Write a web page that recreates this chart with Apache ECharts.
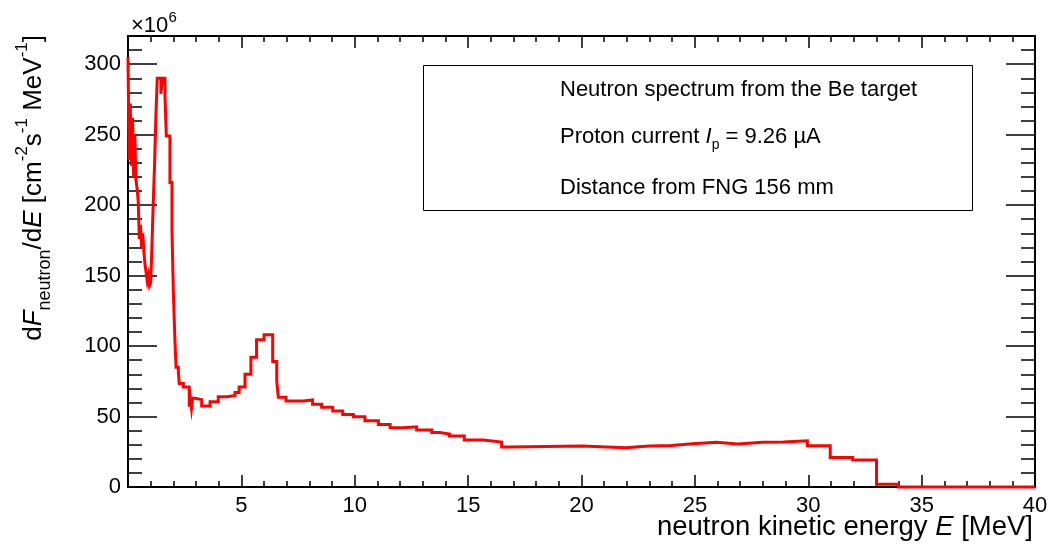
<!DOCTYPE html>
<html>
<head>
<meta charset="utf-8">
<script src="https://cdn.jsdelivr.net/npm/echarts@6/dist/echarts.min.js"></script>
<style>
html,body{margin:0;padding:0;background:#fff;}
#c{width:1053px;height:551px;}
</style>
</head>
<body>
<div id="c"></div>
<script>
// Bin edges (MeV) of the neutron spectrum histogram
const binEdges = [
  0.00, 0.05, 0.10, 0.15, 0.20, 0.25, 0.30, 0.35, 0.40, 0.45,
  0.50, 0.55, 0.60, 0.65, 0.70, 0.75, 0.80, 0.85, 0.90, 0.95,
  1.00, 1.05, 1.10, 1.17, 1.23, 1.29, 1.45, 1.52, 1.63, 1.69,
  1.85, 1.94, 2.00, 2.07, 2.12, 2.22, 2.26, 2.44, 2.70, 2.75,
  2.80, 2.85, 2.95, 3.25, 3.62, 3.98, 4.38, 4.72, 4.90, 5.16,
  5.42, 5.67, 6.00, 6.38, 6.56, 6.63, 6.97, 7.73, 8.14, 8.54,
  9.03, 9.47, 9.94, 10.45, 11.04, 11.56, 12.14, 12.73, 13.40, 13.75,
  14.18, 14.83, 15.67, 16.48, 16.80, 20.03, 21.94, 22.99, 23.95, 24.90,
  25.95, 26.91, 27.96, 28.91, 29.96, 30.97, 31.96, 33.01, 33.97, 40.00
];
// dF/dE values (x10^6 cm^-2 s^-1 MeV^-1), one per bin
const fluxValues = [
  305, 232, 272, 228, 262, 220, 250, 218, 212, 203,
  176, 186, 170, 180, 167, 158, 152, 146, 150, 143,
  145, 168, 195, 228, 263, 290, 279, 290, 278, 249,
  216, 182, 138, 104, 85, 82, 73.5, 71, 57, 63,
  56, 63, 62, 57.5, 60.5, 64, 65, 67, 71, 80,
  92, 104.5, 108, 89, 75, 63.6, 61, 61.7, 58.8, 56.5,
  54, 51.5, 49.8, 47, 44.4, 42, 42.7, 40.4, 38.7, 37.6,
  36.1, 33.3, 31.9, 28.3, 29.1, 27.9, 29.1, 29.5, 30.7, 31.7,
  30.5, 31.7, 31.9, 32.8, 29.3, 21.0, 19.1, 1.9, 0
];
const legendLines = [
  'Neutron spectrum from the Be target',
  '{n|Proton current }{i|I}{s|p}{n| = 9.26 µA}',
  'Distance from FNG 156 mm'
];
const xTitle = '{n|neutron kinetic energy }{i|E}{n| [MeV]}';
const yTitle = '{n|d}{i|F}{sub|neutron}{n|/d}{i|E}{n| [cm}{sup|-2}{n|s}{sup|-1}{n| MeV}{sup|-1}{n|]}';

const pts = [];
for (let i = 0; i < fluxValues.length; i++) {
  pts.push([binEdges[i], fluxValues[i]]);
  pts.push([binEdges[i + 1], fluxValues[i]]);
}

const FONT = "'Liberation Sans', Arial, sans-serif";
const tickStyle = {color: '#000', width: 1.5};
const lineStyleAx = {color: '#000', width: 2};

function xAx(pos, labels) {
  return {
    type: 'value', position: pos, min: 0, max: 40, interval: 5,
    axisLine: {show: true, onZero: false, lineStyle: lineStyleAx},
    axisTick: {show: true, inside: true, length: 12, lineStyle: tickStyle},
    minorTick: {show: true, splitNumber: 5, length: 6, lineStyle: tickStyle},
    axisLabel: {show: labels, fontSize: 22, color: '#000', fontFamily: FONT, margin: 8,
      formatter: v => (v === 0 ? '' : String(v))},
    splitLine: {show: false}, minorSplitLine: {show: false}
  };
}
function yAx(pos, interval, len, labels, line) {
  return {
    type: 'value', position: pos, min: 0, max: 320, interval: interval,
    axisLine: {show: line, onZero: false, lineStyle: lineStyleAx},
    axisTick: {show: true, inside: true, length: len, lineStyle: tickStyle},
    axisLabel: {show: labels, fontSize: 22, color: '#000', fontFamily: FONT, margin: 7,
      formatter: v => (v > 300 ? '' : String(v))},
    splitLine: {show: false}
  };
}

const chart = echarts.init(document.getElementById('c'), null, {renderer: 'canvas'});
chart.setOption({
  animation: false,
  backgroundColor: '#fff',
  grid: {left: 128, right: 18, top: 36, bottom: 64, containLabel: false},
  xAxis: [xAx('bottom', true), xAx('top', false)],
  yAxis: [
    yAx('left', 50, 29, true, true),
    yAx('left', 10, 14, false, false),
    yAx('right', 50, 29, false, true),
    yAx('right', 10, 14, false, false)
  ],
  series: [{
    type: 'line', data: pts, xAxisIndex: 0, yAxisIndex: 0,
    showSymbol: false, symbol: 'none', clip: false, z: 5,
    lineStyle: {color: '#ff0000', width: 3, join: 'miter', cap: 'butt'}
  }],
  graphic: [
    {type: 'rect', z: 10, shape: {x: 423.5, y: 65.5, width: 549, height: 145},
      style: {fill: '#fff', stroke: '#000', lineWidth: 1}},
    {type: 'text', z: 11, x: 560, y: 89.5,
      style: {text: legendLines[0], fontSize: 22, fontFamily: FONT, fill: '#000', align: 'left', verticalAlign: 'middle'}},
    {type: 'text', z: 11, x: 560, y: 137,
      style: {text: legendLines[1], align: 'left', verticalAlign: 'middle',
        rich: {
          n: {fontSize: 22, fontFamily: FONT, fill: '#000', lineHeight: 30},
          i: {fontSize: 22, fontFamily: FONT, fontStyle: 'italic', fill: '#000', lineHeight: 30},
          s: {fontSize: 14, fontFamily: FONT, fill: '#000', lineHeight: 14, verticalAlign: 'bottom'}
        }}},
    {type: 'text', z: 11, x: 560, y: 187.5,
      style: {text: legendLines[2], fontSize: 22, fontFamily: FONT, fill: '#000', align: 'left', verticalAlign: 'middle'}},
    {type: 'text', z: 11, x: 1033, y: 527,
      style: {text: xTitle, align: 'right', verticalAlign: 'middle',
        rich: {
          n: {fontSize: 27.5, fontFamily: FONT, fill: '#000'},
          i: {fontSize: 27.5, fontFamily: FONT, fontStyle: 'italic', fill: '#000'}
        }}},
    {type: 'text', z: 11, x: 34, y: 35, rotation: Math.PI / 2,
      style: {text: yTitle, align: 'right', verticalAlign: 'middle',
        rich: {
          n: {fontSize: 26, fontFamily: FONT, fill: '#000', lineHeight: 40},
          i: {fontSize: 26, fontFamily: FONT, fontStyle: 'italic', fill: '#000', lineHeight: 40},
          sub: {fontSize: 18, fontFamily: FONT, fill: '#000', lineHeight: 18, verticalAlign: 'bottom'},
          sup: {fontSize: 17, fontFamily: FONT, fill: '#000', lineHeight: 16, verticalAlign: 'top'}
        }}},
    {type: 'text', z: 11, x: 131, y: 26,
      style: {text: '×10', fontSize: 22, fontFamily: FONT, fill: '#000', align: 'left', verticalAlign: 'middle'}},
    {type: 'text', z: 11, x: 168.5, y: 18,
      style: {text: '6', fontSize: 15, fontFamily: FONT, fill: '#000', align: 'left', verticalAlign: 'middle'}}
  ]
});
</script>
</body>
</html>
